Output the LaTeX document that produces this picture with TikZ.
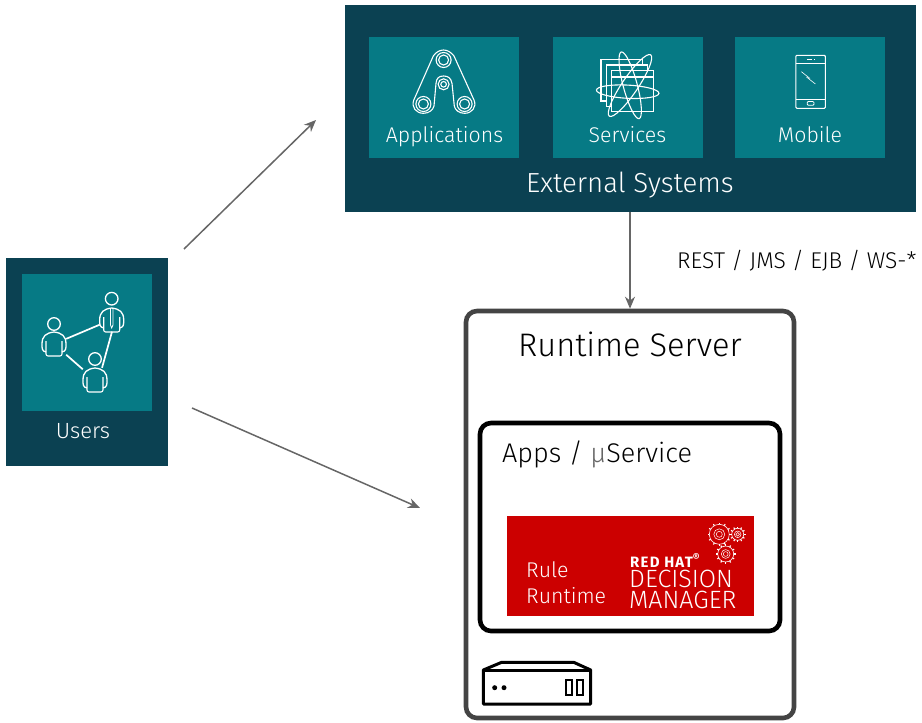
\documentclass[tikz,border=0pt]{standalone}
\usepackage{fontspec}
\setmainfont{Fira Sans Light}[BoldFont={Fira Sans Bold}]
\usetikzlibrary{arrows.meta}
\definecolor{panelblue}{HTML}{0B4152}
\definecolor{tileteal}{HTML}{067A85}
\definecolor{rhred}{HTML}{CC0000}
\definecolor{linegray}{HTML}{666666}
\definecolor{framegray}{HTML}{444444}
\tikzset{
	panel/.style={fill=panelblue,inner sep=0pt,minimum width=#1},
	tile/.style={fill=tileteal,inner sep=0pt,minimum width=150pt,minimum height=121pt},
	label/.style={text=white,inner sep=0pt,font=\fontsize{21.3}{25}\selectfont},
	frame/.style={draw=#1,line width=4.6pt,rounded corners=11pt,inner sep=0pt,fill=white},
	flow/.style={draw=linegray,line width=1.5pt,-{Stealth[length=12pt,width=10pt]}},
	icon/.style={draw=white,line width=1.1pt},
	person/.style={rectangle,inner sep=0pt,minimum size=24pt},
	gear/.pic={
		\draw [white,line width=0.6pt] (0,0) circle (#1);
		\draw [white,line width=0.5pt] (0,0) circle (#1*0.3);
		\draw [white,line width=0.5pt] (0,0) circle (#1*0.55);
		\foreach \a in {0,30,...,330}
			\draw [white,line width=1.1pt] (\a:#1) -- (\a:#1+1.8);
	}
}
\begin{document}
\begin{tikzpicture}[x=1pt,y=-1pt]
	\useasboundingbox (0,0) rectangle (922,723);
	\node (ext) [panel=571pt,minimum height=207pt] at (630.5,108.5) {};
	\node (apps) [tile] at (444,97.5) {};
	\node (services) [tile] at (628,97.5) {};
	\node (mobile) [tile] at (810,97.5) {};
	\node (appslabel) [label] at (444.5,136.5) {Applications};
	\node (serviceslabel) [label] at (627.5,135) {Services};
	\node (mobilelabel) [label] at (810,135) {Mobile};
	\node (extlabel) [label,font=\fontsize{27.6}{32}\selectfont] at (630,185.5) {External Systems};

	\draw [icon] (433.3,56) .. controls (436,52) and (440,50) .. (443.6,50) .. controls (447,50) and (451,52) .. (454,56) -- (474,100) .. controls (477,107) and (472,113.3) .. (464.6,113.3) .. controls (459,113.3) and (455,110) .. (454.3,106) -- (452,83.3) .. controls (451,78) and (448,76) .. (443.6,76) .. controls (439,76) and (436.5,78) .. (436,83.3) -- (434,106) .. controls (433,110) and (429,113.3) .. (423.4,113.3) .. controls (416,113.3) and (411,107) .. (413.8,100) -- cycle;
	\foreach \c/\r in {443.6/60,423.4/104,464.6/104} {
		\draw [icon] (\c,\r) circle (7.5);
		\draw [icon] (\c,\r) circle (5);
	}
	\draw [icon] (443.6,84.3) circle (5.5);
	\draw [icon] (443.6,84.3) circle (2.8);

	\draw [icon,fill=tileteal] (601,59.4) rectangle (642.4,101);
	\draw [icon,fill=tileteal] (606.3,65) rectangle (647.5,106.7);
	\draw [icon,fill=tileteal] (611.8,70.7) rectangle (653.4,111.6);
	\draw [icon] (611.8,77) -- (653.4,77);
	\draw [icon] (627.7,91.7) ellipse [x radius=31.3,y radius=6.6,rotate=-3];
	\draw [icon] (630,85.5) ellipse [x radius=37,y radius=8,rotate=56];
	\draw [icon] (630.2,85.3) ellipse [x radius=34.5,y radius=7,rotate=105];

	\draw [icon,rounded corners=1pt] (795.9,55.3) rectangle (825.3,108.3);
	\draw [icon,line width=0.8pt] (795.9,63.5) -- (825.3,63.5);
	\draw [icon,line width=0.8pt] (795.9,99.3) -- (825.3,99.3);
	\draw [icon,line width=0.8pt] (807,59.3) -- (812,59.3);
	\draw [icon,line width=0.8pt] (814,59.3) -- (815,59.3);
	\draw [icon,line width=0.8pt,rounded corners=1pt] (807.3,101.5) rectangle (813.9,105.3);
	\draw [icon,line width=0.6pt] (801.4,71.7) -- (810,78.5);
	\draw [icon,line width=0.6pt] (806.5,77) -- (815.4,84);

	\node (users) [panel=162pt,minimum height=208pt] at (87,362) {};
	\node (userstile) [fill=tileteal,inner sep=0pt,minimum width=130pt,minimum height=137pt] at (87,342.5) {};
	\node (userslabel) [label,font=\fontsize{22}{26}\selectfont] at (83,431) {Users};
	\node (persona) [person] at (54,344) {};
	\node (personb) [person] at (112,319.5) {};
	\node (personc) [person] at (95,380) {};
	\draw [white,line width=1.7pt] (persona) -- (personb);
	\draw [white,line width=1.7pt] (persona) -- (personc);
	\draw [white,line width=1.7pt] (personb.south) -- (personc.60);
	\foreach \p/\h/\b in {54/324/332,111.7/298.7/308,95/359/368} {
		\draw [white,line width=1.3pt] (\p,\h) circle (6.3);
		\draw [white,line width=1.3pt] (\p-8,\b+20) .. controls (\p-12,\b+19) and (\p-12,\b+17) .. (\p-12,\b+12) .. controls (\p-12,\b+4) and (\p-8,\b+1) .. (\p,\b) .. controls (\p+8,\b+1) and (\p+12,\b+4) .. (\p+12,\b+12) .. controls (\p+12,\b+17) and (\p+12,\b+19) .. (\p+8,\b+20);
		\draw [white,line width=1.1pt,rounded corners=2pt] (\p-8,\b+9) -- (\p-8,\b+24) -- (\p+8,\b+24) -- (\p+8,\b+9);
	}
	\draw [white,line width=0.8pt] (110.5,308) -- (110.5,325) -- (111.7,328) -- (113,325) -- (113,308);

	\node (runtime) [frame=framegray,minimum width=328pt,minimum height=407pt] at (630,514.5) {};
	\node (runtimelabel) [inner sep=0pt,font=\fontsize{32.6}{38}\selectfont] at (630,344) {Runtime Server};
	\node (appbox) [frame=black,minimum width=300pt,minimum height=208pt] at (630,527) {};
	\node (applabel) [inner sep=0pt,anchor=west,font=\fontsize{27}{32}\selectfont] at (502,454.5) {Apps / \textcolor{linegray}{µ}Service};
	\node (rulebox) [fill=rhred,inner sep=0pt,minimum width=247pt,minimum height=100pt] at (630.5,566) {};
	\node (rulelabel) [text=white,inner sep=0pt,align=left,anchor=north west,font=\fontsize{21.3}{26}\selectfont] at (526,561) {Rule\\Runtime};
	\node (redhat) [text=white,inner sep=0pt,anchor=west,font=\fontsize{15}{17}\selectfont\bfseries\addfontfeature{LetterSpace=8}] at (630,560.5) {RED HAT\textsuperscript{®}};
	\node (decision) [text=white,inner sep=0pt,align=left,anchor=west,font=\fontsize{25}{20.7}\selectfont] at (629,589.5) {DECISION\\MANAGER};
	\pic at (719.3,534.3) {gear=10};
	\pic at (737.7,534.3) {gear=6};
	\pic at (725.7,554) {gear=8};

	\draw [black,line width=3pt,line join=round] (483.3,670) -- (501.7,662.3) -- (573.7,662.3) -- (590.7,670) -- (590.7,704) -- (483.3,704) -- cycle;
	\draw [black,line width=3pt] (483.3,670) -- (590.7,670);
	\fill [black] (494.7,687.7) circle (2.5);
	\fill [black] (504,687.7) circle (2.5);
	\draw [black,line width=2.4pt] (565.7,680) rectangle (571.7,695);
	\draw [black,line width=2.4pt] (576.7,680) rectangle (582.7,695);

	\coordinate (extend) at (316,120);
	\coordinate (userstop) at (184,249);
	\coordinate (usersbot) at (192,408);
	\coordinate (runtimeend) at (420,508);
	\draw [flow] (userstop) -- (extend);
	\draw [flow] (usersbot) -- (runtimeend);
	\draw [flow] (ext.south -| runtime) -- (runtime.north);
	\node (protocols) [inner sep=0pt,anchor=west,font=\fontsize{22.8}{26}\selectfont] at (677,261) {REST / JMS / EJB / WS-*};
\end{tikzpicture}
\end{document}
